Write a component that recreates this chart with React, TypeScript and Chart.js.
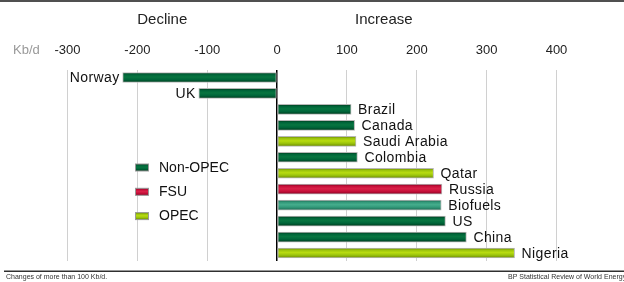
import React, { useEffect, useRef } from "react";
import { Chart, registerables } from "chart.js";

Chart.register(...registerables);

const categories = ["Norway", "UK", "Brazil", "Canada", "Saudi Arabia", "Colombia", "Qatar", "Russia", "Biofuels", "US", "China", "Nigeria"];
const values = [-221, -112, 106, 111, 113, 115, 224, 236, 235, 241, 271, 340];
const groups = ["Non-OPEC", "Non-OPEC", "Non-OPEC", "Non-OPEC", "OPEC", "Non-OPEC", "OPEC", "FSU", "Biofuels", "Non-OPEC", "Non-OPEC", "OPEC"];
const tickValues = [-300, -200, -100, 0, 100, 200, 300, 400];
const legendItems = ["Non-OPEC", "FSU", "OPEC"];

const palette: Record<string, { main: string; edge: string; light: string }> = {
  "Non-OPEC": { main: "#00663a", edge: "#003a1c", light: "#087540" },
  OPEC: { main: "#9cc40c", edge: "#6a8a00", light: "#b8dc10" },
  FSU: { main: "#c8103a", edge: "#860022", light: "#d92048" },
  Biofuels: { main: "#33997a", edge: "#1c6a52", light: "#45ad8c" },
};

const FONT = "'Liberation Sans', Arial, sans-serif";
const BAR_H = 10;

function makeGrad(ctx: CanvasRenderingContext2D, y0: number, y1: number, c: { main: string; edge: string; light: string }) {
  const g = ctx.createLinearGradient(0, y0, 0, y1);
  g.addColorStop(0, c.edge);
  g.addColorStop(0.22, c.main);
  g.addColorStop(0.45, c.light);
  g.addColorStop(0.7, c.main);
  g.addColorStop(1, c.edge);
  return g;
}

const decorPlugin = {
  id: "decor",
  beforeDraw(chart: any) {
    const ctx = chart.ctx as CanvasRenderingContext2D;
    ctx.save();
    ctx.fillStyle = "#fff";
    ctx.fillRect(0, 0, chart.width, chart.height);
    ctx.fillStyle = "#505050";
    ctx.fillRect(0, 0, chart.width, 2);
    ctx.fillStyle = "#303030";
    ctx.fillRect(4, 270.5, chart.width - 4, 1.5);
    const x = chart.scales.x;
    ctx.fillStyle = "#222";
    ctx.font = `15px ${FONT}`;
    ctx.textAlign = "center";
    ctx.textBaseline = "middle";
    ctx.fillText("Decline", (x.getPixelForValue(-300) + x.getPixelForValue(0)) / 2 - 10, 20);
    ctx.fillText("Increase", (x.getPixelForValue(0) + x.getPixelForValue(300)) / 2 + 2, 20);
    ctx.fillStyle = "#999";
    ctx.font = `13px ${FONT}`;
    ctx.textAlign = "left";
    ctx.fillText("Kb/d", 13, 50);
    ctx.fillStyle = "#333";
    ctx.font = `7px ${FONT}`;
    ctx.fillText("Changes of more than 100 Kb/d.", 6, 277);
    ctx.fillText("BP Statistical Review of World Energy", 508, 277);
    ctx.restore();
  },
  afterDatasetsDraw(chart: any) {
    const ctx = chart.ctx as CanvasRenderingContext2D;
    const meta = chart.getDatasetMeta(0);
    ctx.save();
    ctx.fillStyle = "#111";
    ctx.font = `14px ${FONT}`;
    (ctx as any).letterSpacing = "0.4px";
    ctx.textBaseline = "middle";
    meta.data.forEach((el: any, i: number) => {
      const v = values[i];
      if (v < 0) {
        ctx.textAlign = "right";
        ctx.fillText(categories[i], el.x - 3, el.y + 1);
      } else {
        ctx.textAlign = "left";
        ctx.fillText(categories[i], el.x + 7, el.y + 1);
      }
    });
    (ctx as any).letterSpacing = "0px";
    ctx.textAlign = "left";
    ctx.font = `14px ${FONT}`;
    legendItems.forEach((name, i) => {
      const cy = 167.5 + i * 24.3;
      const c = palette[name];
      ctx.fillStyle = makeGrad(ctx, cy - 3.5, cy + 3.5, c);
      ctx.fillRect(135.5, cy - 3.5, 13, 7);
      ctx.strokeStyle = "#999";
      ctx.lineWidth = 1;
      ctx.strokeRect(135.5, cy - 3.5, 13, 7);
      ctx.fillStyle = "#111";
      ctx.fillText(name, 159, cy + 0.5);
    });
    ctx.restore();
  },
};

export default function App() {
  const ref = useRef<HTMLCanvasElement>(null);
  useEffect(() => {
    if (!ref.current) return;
    const chart = new Chart(ref.current, {
      type: "bar",
      data: {
        labels: categories,
        datasets: [
          {
            data: values,
            barThickness: BAR_H,
            borderWidth: 1,
            borderColor: "#b8b8b8",
            borderSkipped: false,
            backgroundColor: (c: any) => {
              const col = palette[groups[c.dataIndex]] || palette["Non-OPEC"];
              const ys = c.chart.scales && c.chart.scales.y;
              if (!ys || c.dataIndex === undefined) return col.main;
              const yc = ys.getPixelForValue(c.dataIndex);
              if (!isFinite(yc)) return col.main;
              return makeGrad(c.chart.ctx, yc - BAR_H / 2, yc + BAR_H / 2, col);
            },
          },
        ],
      },
      options: {
        indexAxis: "y",
        animation: false,
        responsive: false,
        maintainAspectRatio: false,
        layout: { padding: { left: 67.5, right: 67.5, top: 31.9, bottom: 21 } },
        plugins: { legend: { display: false }, tooltip: { enabled: false } },
        scales: {
          x: {
            position: "top",
            min: tickValues[0],
            max: tickValues[tickValues.length - 1],
            afterBuildTicks: (axis: any) => {
              axis.ticks = tickValues.map((v) => ({ value: v }));
            },
            border: { display: false },
            grid: {
              drawTicks: false,
              color: (c: any) => (c.tick && c.tick.value === 0 ? "#000" : "#d0d0d0"),
              lineWidth: (c: any) => (c.tick && c.tick.value === 0 ? 1.5 : 1),
            },
            ticks: {
              padding: 11,
              color: "#222",
              font: { family: FONT, size: 13 },
              callback: (v: any) => String(v),
            },
          },
          y: { display: false, grid: { display: false } },
        },
      },
      plugins: [decorPlugin],
    } as any);
    return () => chart.destroy();
  }, []);
  return (
    <div style={{ position: "fixed", left: 0, top: 0, width: 624, height: 282, background: "#fff" }}>
      <canvas ref={ref} width={624} height={282} style={{ display: "block", width: 624, height: 282 }} />
    </div>
  );
}
